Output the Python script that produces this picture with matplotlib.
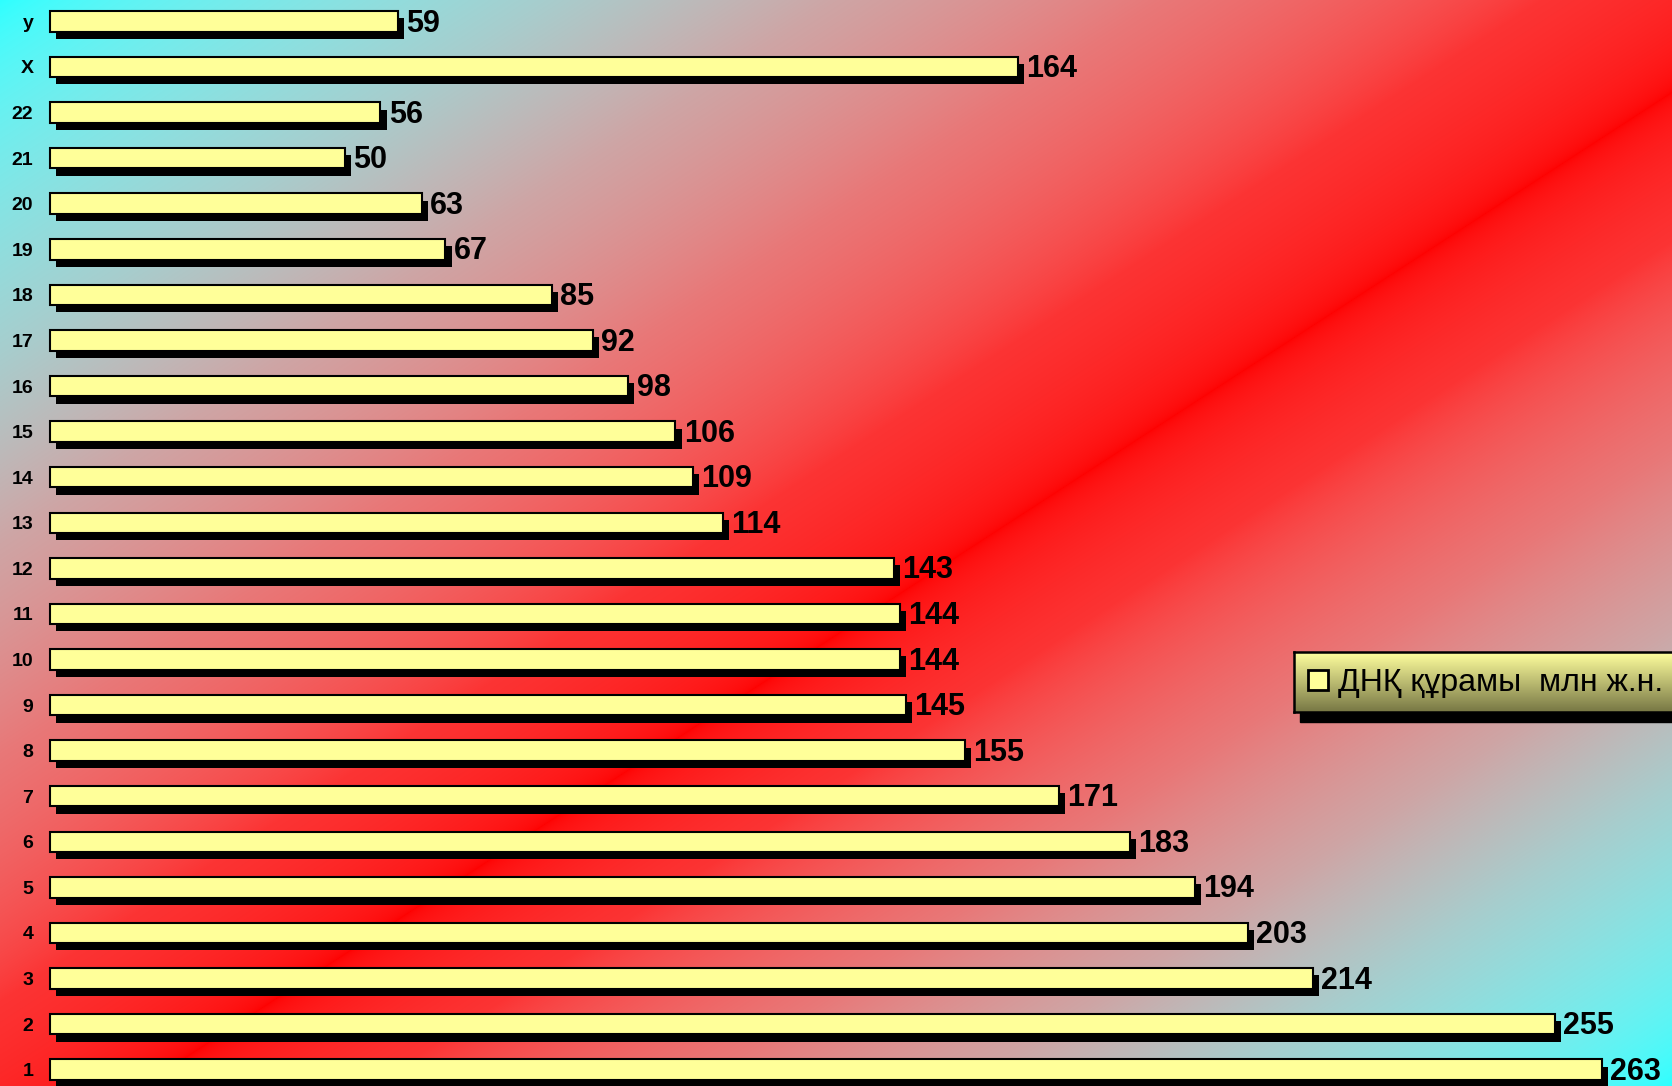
import numpy as np
import matplotlib
matplotlib.use('Agg')
import matplotlib.pyplot as plt
import matplotlib.patheffects as pe
from matplotlib.lines import Line2D
from matplotlib.patches import Rectangle


W, H = 1672, 1086
DPI = 100

# chromosomes from the bottom row up
chromosomes = ['1', '2', '3', '4', '5', '6', '7', '8', '9', '10', '11', '12',
               '13', '14', '15', '16', '17', '18', '19', '20', '21', '22', 'X', 'у']
dna_mbp = [263, 255, 214, 203, 194, 183, 171, 155, 145, 144, 144, 143,
           114, 109, 106, 98, 92, 85, 67, 63, 50, 56, 164, 59]
legend_label = 'ДНҚ құрамы  млн ж.н.'

BAR_COLOR = '#FFFF99'
SANS = ['Liberation Sans', 'DejaVu Sans']


def background(w, h):
    # diagonal cyan -> red -> cyan, blended in linear light
    u = np.linspace(0, 1, w)[None, :]
    v = np.linspace(0, 1, h)[:, None]
    p = u + v
    c = 1.085
    s = np.where(p < c, p / c, (2 - p) / (2 - c))
    s = np.clip(s, 0, 1)
    s = np.interp(s, [0, 0.3, 0.46, 0.64, 0.85, 1], [0, 0.38, 0.615, 0.81, 0.97, 1])
    s = s[..., None]
    cyan = np.array([0.18, 1.0, 1.0]) ** 2.2
    red = np.array([1.0, 0.0, 0.0]) ** 2.2
    img = (1 - s) * cyan + s * red
    return img ** (1 / 2.2)


fig = plt.figure(figsize=(W / DPI, H / DPI), dpi=DPI)

bg = fig.add_axes([0, 0, 1, 1], zorder=0)
bg.imshow(background(W, H), aspect='auto', interpolation='bilinear')
bg.axis('off')

# legend box with vertical yellow-olive gradient and drop shadow
lx, ly, lh = 1294, 1086 - 712, 60
fig.patches.append(Rectangle(((lx + 6) / W, (ly - 10) / H), 500 / W, lh / H,
                             transform=fig.transFigure, color='black', zorder=1))
lg = fig.add_axes([lx / W, ly / H, 500 / W, lh / H], zorder=2)
grad = np.linspace(0, 1, 64)[:, None, None]
top = np.array([1.0, 1.0, 0.62])
bottom = np.array([0.47, 0.47, 0.27])
lg.imshow((1 - grad) * top + grad * bottom, aspect='auto', extent=(0, 1, 0, 1))
lg.set_xticks([])
lg.set_yticks([])
for sp in lg.spines.values():
    sp.set_linewidth(1.8)
    sp.set_color('black')

ax = fig.add_axes([50 / W, 0, 1 - 50 / W, 1], zorder=3)
ax.patch.set_alpha(0)
ypos = np.arange(len(chromosomes))
bars = ax.barh(ypos, dna_mbp, height=0.45, color=BAR_COLOR,
               edgecolor='black', linewidth=1.5, clip_on=False)
for b in bars:
    b.set_path_effects([pe.SimplePatchShadow(offset=(4.5, -5.2),
                                             shadow_rgbFace='black', alpha=1.0),
                        pe.Normal()])

for y, v in zip(ypos, dna_mbp):
    ax.annotate(str(v), (v, y), xytext=(6, -1.5), textcoords='offset points',
                ha='left', va='center', fontsize=22, fontweight='bold',
                family=SANS)

ax.set_xlim(0, (W - 50) / 5.9)
ax.set_ylim(-0.358, 23.47)
ax.set_yticks(ypos)
ax.set_yticklabels(chromosomes, fontsize=14, fontweight='bold', family=SANS)
ax.tick_params(axis='y', length=0, pad=12)
ax.set_xticks([])
for sp in ax.spines.values():
    sp.set_visible(False)

handle = Line2D([], [], linestyle='none', marker='s', markersize=14,
                markerfacecolor=BAR_COLOR, markeredgecolor='black',
                markeredgewidth=2)
fig.legend([handle], [legend_label], loc='center left',
           bbox_to_anchor=((lx - 6) / W, (ly + lh / 2 - 1) / H),
           frameon=False, handlelength=0.7, handletextpad=0.25,
           borderpad=0.3, borderaxespad=0.3, prop={'family': SANS, 'size': 23})

fig.savefig('out.png', dpi=DPI)
